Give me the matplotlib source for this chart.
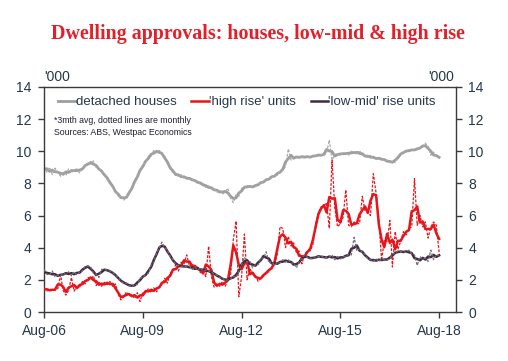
import numpy as np
import pandas as pd
import matplotlib
matplotlib.use("Agg")
import matplotlib.pyplot as plt
import matplotlib.dates as mdates

# ---------------- data (monthly, Aug-06 .. Aug-18), '000 ----------------
start = "2006-08-01"
n_months = 145

houses_monthly = [
    9.05, 8.7, 9.0, 8.55, 8.95, 8.7, 8.45, 8.75, 8.5, 8.9, 8.65, 8.85,
    8.9, 8.65, 8.95, 9.1, 9.3, 9.2, 9.4, 9.0, 8.95, 8.75, 8.6, 8.25,
    8.2, 7.7, 7.6, 7.2, 7.2, 6.95, 7.15, 7.3, 7.8, 7.95, 8.55, 8.7,
    9.2, 9.25, 9.7, 9.7, 10.05, 9.9, 10.05, 9.85, 9.7, 9.2, 9.1, 8.6,
    8.65, 8.4, 8.55, 8.3, 8.4, 8.25, 8.3, 8.1, 8.15, 7.95, 8.0, 7.75,
    7.85, 7.65, 7.7, 7.45, 7.6, 7.35, 7.45, 7.7, 7.1, 6.8, 7.3, 7.2,
    7.7, 7.7, 7.9, 7.75, 7.8, 7.8, 8.0, 7.95, 8.2, 8.1, 8.4, 8.3,
    8.55, 8.5, 8.8, 8.8, 9.05, 10.15, 9.45, 9.65, 9.6, 9.7, 9.55, 9.75,
    9.6, 9.65, 9.65, 9.8, 9.7, 9.8, 9.75, 9.9, 10.7, 9.45, 9.8, 9.85,
    9.75, 9.9, 9.9, 9.75, 10.0, 9.95, 9.8, 10.05, 9.75, 9.75, 9.6, 9.75,
    9.55, 9.6, 9.5, 9.6, 9.4, 9.45, 9.3, 9.35, 9.3, 9.7, 9.8, 10.0,
    9.95, 10.1, 10.05, 10.1, 10.1, 10.25, 10.25, 10.5, 10.3, 9.75, 9.95, 9.6,
    9.65,
]

high_rise_monthly = [
    1.5, 1.3, 1.45, 1.3, 1.4, 1.45, 2.3, 1.35, 1.05, 1.35, 2.15, 1.3,
    1.6, 1.55, 1.9, 1.75, 2.15, 2.05, 2.25, 1.65, 1.85, 1.6, 1.85, 1.7,
    1.9, 1.6, 1.75, 1.1, 0.75, 0.95, 1.25, 1.0, 1.1, 0.85, 1.2, 0.65,
    1.25, 1.2, 1.45, 1.2, 1.5, 1.25, 1.65, 1.7, 2.1, 1.8, 2.45, 2.5,
    2.95, 2.55, 3.1, 3.0, 3.55, 2.85, 3.0, 2.75, 2.85, 2.45, 2.55, 2.2,
    4.1, 2.2, 1.55, 1.75, 1.6, 1.9, 1.6, 2.0, 2.3, 4.5, 5.65, 0.95,
    2.2, 4.85, 2.0, 2.7, 2.35, 2.3, 1.9, 2.15, 2.2, 2.55, 2.5, 2.8,
    2.9, 3.6, 5.3, 5.2, 4.0, 4.7, 4.1, 4.3, 3.7, 3.8, 3.0, 3.6,
    3.8, 3.8, 4.2, 5.5, 6.2, 6.55, 6.6, 6.8, 5.2, 9.45, 6.5, 5.3,
    5.5, 5.9, 7.6, 5.4, 5.3, 5.6, 5.5, 5.5, 7.2, 6.3, 6.2, 6.0,
    8.6, 7.4, 5.8, 3.2, 4.5, 4.4, 5.7, 2.8, 5.0, 3.9, 4.4, 5.0,
    4.8, 5.2, 5.3, 8.3, 5.4, 6.0, 5.3, 5.6, 4.6, 5.3, 5.6, 5.4,
    3.7,
]

low_mid_monthly = [
    2.65, 2.35, 2.3, 2.55, 2.2, 2.3, 2.25, 2.4, 2.35, 2.5, 2.25, 2.5,
    2.3, 2.5, 2.55, 2.85, 2.85, 2.8, 2.4, 2.35, 2.15, 2.65, 2.65, 2.6,
    2.55, 2.45, 2.3, 2.15, 1.9, 1.8, 1.8, 1.65, 1.55, 1.7, 1.7, 2.1,
    2.15, 2.35, 2.4, 2.9, 3.1, 3.7, 4.0, 4.35, 4.0, 3.85, 3.45, 3.25,
    2.95, 2.9, 2.85, 2.8, 2.85, 2.85, 2.65, 2.8, 2.6, 2.75, 2.55, 2.6,
    2.55, 2.5, 2.35, 2.3, 2.15, 2.1, 1.95, 2.0, 2.05, 2.25, 2.15, 2.55,
    2.95, 3.4, 3.1, 3.15, 2.75, 2.95, 2.95, 3.35, 3.35, 3.75, 3.05, 3.15,
    2.9, 3.05, 3.05, 3.25, 3.1, 3.25, 3.05, 3.05, 2.75, 3.15, 3.35, 3.55,
    3.4, 3.35, 3.3, 3.45, 3.45, 3.5, 3.35, 3.4, 3.4, 3.55, 3.25, 3.45,
    3.3, 3.45, 3.45, 3.6, 3.55, 4.65, 3.8, 3.95, 3.7, 3.6, 3.3, 3.25,
    3.15, 3.3, 3.15, 3.3, 3.25, 3.25, 3.3, 3.6, 3.65, 3.8, 3.75, 3.75,
    3.7, 3.85, 3.6, 3.55, 2.9, 3.45, 3.3, 3.35, 3.15, 3.85, 3.25, 3.55,
    3.5,
]

series_names = ["detached houses", "'high rise' units", "'low-mid' rise units"]
title = "Dwelling approvals: houses, low-mid & high rise"
note = "*3mth avg, dotted lines are monthly\nSources: ABS, Westpac Economics"
unit_label = "'000"
y_ticks = [0, 2, 4, 6, 8, 10, 12, 14]
x_tick_dates = ["2006-08-01", "2009-08-01", "2012-08-01", "2015-08-01", "2018-08-01"]

# ---------------- styling ----------------
c_house = "#9E9E9E"
c_high = "#E8141C"
c_low = "#3F2A3F"
c_text = "#26374A"
c_spine = "#3A3A3A"

plt.rcParams["font.family"] = ["Liberation Sans", "DejaVu Sans"]

dates = pd.date_range(start, periods=n_months, freq="MS")
df = pd.DataFrame({"h": houses_monthly, "hr": high_rise_monthly, "lm": low_mid_monthly}, index=dates)
sm = df.rolling(3, center=True, min_periods=1).mean()

fig = plt.figure(figsize=(5.08, 3.61), dpi=100)
ax = fig.add_axes([44 / 508, 49 / 361, 411.7 / 508, 225 / 361])

dash = (0, (2.2, 1.2))
l1, = ax.plot(sm.index, sm["h"], color=c_house, lw=2.0, zorder=2)
ax.plot(df.index, df["h"], color="#A8A8A8", lw=0.9, ls=dash, zorder=2.1)
l2, = ax.plot(sm.index, sm["hr"], color=c_high, lw=1.8, zorder=3)
ax.plot(df.index, df["hr"], color=c_high, lw=0.9, ls=dash, zorder=3.1)
l3, = ax.plot(sm.index, sm["lm"], color=c_low, lw=1.8, zorder=4)
ax.plot(df.index, df["lm"], color="#766A76", lw=0.9, ls=dash, zorder=4.1)

ax.set_ylim(0, 14)
ax.set_yticks(y_ticks)
ax.set_xlim(pd.Timestamp("2006-08-01"), pd.Timestamp("2019-02-01"))
ax.set_xticks([pd.Timestamp(d) for d in x_tick_dates])
ax.xaxis.set_major_formatter(mdates.DateFormatter("%b-%y"))

for s in ax.spines.values():
    s.set_color(c_spine)
    s.set_linewidth(1.0)

ax.tick_params(axis="y", which="both", left=True, right=True, labelleft=True,
               labelright=True, direction="out", length=4, width=1.0,
               color=c_spine, labelsize=10, labelcolor=c_text, pad=5)
ax.tick_params(axis="x", direction="out", length=4, width=1.0, color=c_spine,
               labelsize=10, labelcolor=c_text, pad=5, top=False)

leg = ax.legend([l1, l2, l3], series_names, loc="upper left",
                bbox_to_anchor=(0.035, 0.96), ncol=3, frameon=False,
                handlelength=1.3, handletextpad=0.05, columnspacing=1.1,
                borderaxespad=0, borderpad=0, fontsize=9.5)
for t in leg.get_texts():
    t.set_color(c_text)

ax.text(0.024, 0.87, note, transform=ax.transAxes, fontsize=6.3, color="#1E1E2E",
        va="top", ha="left", linespacing=1.45)

fig.text(44 / 508, 1 - 77 / 361, unit_label, fontsize=10, color=c_text, ha="left", va="center")
fig.text(454 / 508, 1 - 77 / 361, unit_label, fontsize=10, color=c_text, ha="right", va="center")

fig.text(0.507, 1 - 34 / 361, title, fontsize=14.4, color="#E3202A", ha="center",
         va="center", family=["Liberation Serif", "DejaVu Serif"], weight="bold")

fig.savefig("out.png", dpi=100, facecolor="white")
